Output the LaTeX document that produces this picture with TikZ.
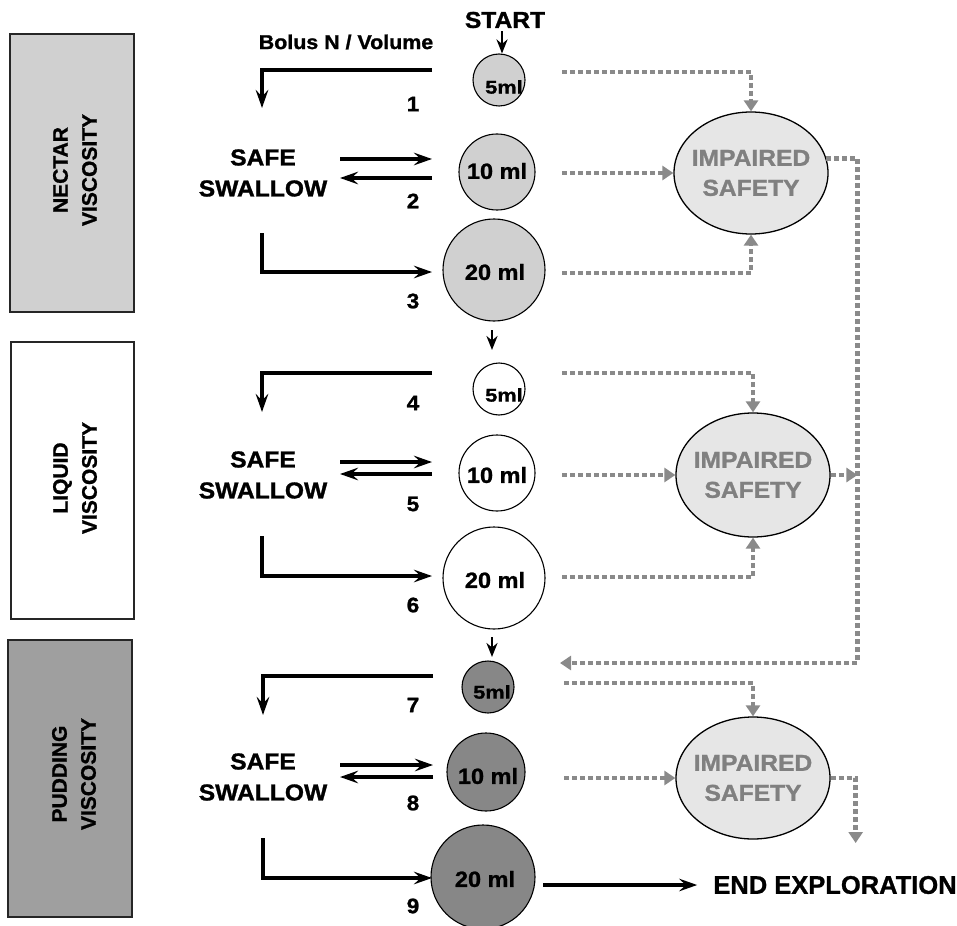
\documentclass[tikz,border=0pt]{standalone}
\usepackage{fontspec}
\setmainfont{Liberation Sans}[FakeStretch=1.07, FakeBold=1.2]
\newfontfamily\plainsans{Liberation Sans}[FakeBold=1.0]
\usetikzlibrary{arrows.meta,shapes.geometric}

\definecolor{nectarfill}{HTML}{D0D0D0}
\definecolor{puddingfill}{HTML}{9F9F9F}
\definecolor{puddingball}{HTML}{878787}
\definecolor{impairfill}{HTML}{E6E6E6}
\definecolor{impairtext}{HTML}{808080}
\definecolor{dotgray}{HTML}{8A8A8A}

\tikzset{
  visbox/.style={draw=black!85, line width=1.3pt, minimum width=124pt,
    minimum height=278pt, inner sep=0pt},
  vislabel/.style={rotate=90, align=center,
    font=\plainsans\bfseries\fontsize{21}{29}\selectfont},
  ball/.style={circle, draw, line width=1.1pt, inner sep=0pt},
  vol/.style={font=\bfseries\fontsize{22}{26}\selectfont, inner sep=0pt},
  volsmall/.style={font=\bfseries\fontsize{18.5}{20}\selectfont, inner sep=0pt},
  num/.style={font=\bfseries\fontsize{21}{22}\selectfont, inner sep=0pt},
  safe/.style={align=center, font=\bfseries\fontsize{23}{31}\selectfont},
  impair/.style={ellipse, draw, line width=1.3pt, fill=impairfill,
    minimum width=154pt, minimum height=122pt, inner sep=0pt},
  impairlbl/.style={align=center, text=impairtext,
    font=\bfseries\fontsize{23}{30}\selectfont},
  blk/.style={line width=3.2pt, -{Stealth[length=18pt,width=12.5pt,inset=6.5pt]}},
  blksmall/.style={line width=2.8pt, -{Stealth[length=14pt,width=11pt,inset=4.5pt]}},
  dot/.style={draw=dotgray, line width=4.8pt, dash pattern=on 5pt off 3pt},
  dotarr/.style={dot, -{Triangle[length=11pt,width=14pt]}},
}

\begin{document}
\begin{tikzpicture}[x=1pt,y=-1pt]
\useasboundingbox (0,0) rectangle (957,925);

% ---- viscosity bands ----
\node[visbox, fill=nectarfill] (nectar) at (72,173) {};
\node[vislabel] (nectarlbl) at (75,170) {NECTAR\\VISCOSITY};
\node[visbox, fill=white, minimum width=123pt, minimum height=277pt] (liquid) at (72.5,480.5) {};
\node[vislabel] (liquidlbl) at (75,478) {LIQUID\\VISCOSITY};
\node[visbox, fill=puddingfill, minimum height=277pt] (pudding) at (70,778.5) {};
\node[vislabel] (puddinglbl) at (74,774) {PUDDING\\VISCOSITY};

% ---- header ----
\node[font=\bfseries\fontsize{23}{26}\selectfont, inner sep=0pt] (start) at (505,20) {START};
\node[font=\bfseries\fontsize{20}{22}\selectfont, inner sep=0pt] (bolus) at (346,42) {Bolus N / Volume};

% ---- bolus volumes ----
\node[ball, fill=nectarfill, minimum size=52pt] (n5) at (499,80) {};
\node[ball, fill=nectarfill, minimum size=76pt] (n10) at (497,172) {};
\node[ball, fill=nectarfill, minimum size=102pt] (n20) at (494,270) {};
\node[ball, fill=white, minimum size=52pt] (l5) at (499,389) {};
\node[ball, fill=white, minimum size=76pt] (l10) at (497,473) {};
\node[ball, fill=white, minimum size=102pt] (l20) at (494,578) {};
\node[ball, fill=puddingball, minimum size=52pt] (p5) at (488,687) {};
\node[ball, fill=puddingball, minimum size=78pt] (p10) at (486,772) {};
\node[ball, fill=puddingball, minimum size=104pt] (p20) at (483,877) {};

\node[volsmall] (n5t) at ([shift={(5,7)}]n5.center) {\scalebox{1.1}[1]{5ml}};
\node[vol] (n10t) at ([shift={(0,-1)}]n10.center) {10 ml};
\node[vol] (n20t) at ([shift={(1,2)}]n20.center) {20 ml};
\node[volsmall] (l5t) at ([shift={(5,6)}]l5.center) {\scalebox{1.1}[1]{5ml}};
\node[vol] (l10t) at ([shift={(0,2)}]l10.center) {10 ml};
\node[vol] (l20t) at ([shift={(1,2)}]l20.center) {20 ml};
\node[volsmall] (p5t) at ([shift={(4,5)}]p5.center) {\scalebox{1.1}[1]{5ml}};
\node[vol] (p10t) at ([shift={(2,4)}]p10.center) {10 ml};
\node[vol] (p20t) at ([shift={(2,2)}]p20.center) {20 ml};

% ---- step numbers ----
\node[num] (s1) at (413,104) {1};
\node[num] (s2) at (413,201) {2};
\node[num] (s3) at (413,301) {3};
\node[num] (s4) at (413,403) {4};
\node[num] (s5) at (413,504) {5};
\node[num] (s6) at (413,605) {6};
\node[num] (s7) at (413,705) {7};
\node[num] (s8) at (413,803) {8};
\node[num] (s9) at (413,906) {9};

% ---- safe swallow labels ----
\node[safe] (safe1) at (263,173) {SAFE\\SWALLOW};
\node[safe] (safe2) at (263,475) {SAFE\\SWALLOW};
\node[safe] (safe3) at (263,777) {SAFE\\SWALLOW};

% ---- impaired safety ----
\node[impair] (e1) at (751,173) {};
\node[impairlbl] (e1t) at (e1) {IMPAIRED\\SAFETY};
\node[impair, minimum height=124pt] (e2) at (753,475) {};
\node[impairlbl] (e2t) at (e2) {IMPAIRED\\SAFETY};
\node[impair] (e3) at (753,778) {};
\node[impairlbl] (e3t) at (e3) {IMPAIRED\\SAFETY};

\node[font=\plainsans\bfseries\fontsize{25.5}{28}\selectfont, inner xsep=16pt, inner ysep=0pt] (endx) at (835,885) {END EXPLORATION};

% ---- sequence between volumes ----
\draw[blksmall] (start.south -| 502,0) ++(0,3) coordinate (a0) -- (a0 |- n5.north);
\coordinate (a1) at (492,330);
\draw[blksmall] (a1) -- ++(0,20);
\coordinate (a2) at (492,637);
\draw[blksmall] (a2) -- ++(0,20);

% ---- swallow loops, nectar ----
\coordinate (b1) at (432,70);
\draw[blk] (b1) -| (262,108);
\coordinate (b2a) at (340,159);
\coordinate (b2b) at (432,159);
\draw[blk] (b2a) -- (b2b);
\coordinate (b2c) at (432,178);
\coordinate (b2d) at (340,178);
\draw[blk] (b2c) -- (b2d);
\coordinate (b3) at (262,233);
\draw[blk] (b3) |- (432,272);

% ---- swallow loops, liquid ----
\coordinate (b4) at (432,373);
\draw[blk] (b4) -| (262,412);
\coordinate (b5a) at (340,462);
\draw[blk] (b5a) -- ++(92,0);
\coordinate (b5b) at (432,474);
\draw[blk] (b5b) -- ++(-92,0);
\coordinate (b6) at (262,536);
\draw[blk] (b6) |- (432,576);

% ---- swallow loops, pudding ----
\coordinate (b7) at (433,676);
\draw[blk] (b7) -| (263,715);
\coordinate (b8a) at (340,765);
\draw[blk] (b8a) -- ++(93,0);
\coordinate (b8b) at (433,777);
\draw[blk] (b8b) -- ++(-93,0);
\coordinate (b9) at (263,838);
\draw[blk] (b9) |- (432,878);

% ---- end of exploration ----
\coordinate (endstart) at (543,885);
\draw[blk] (endstart) -- (endx.west);

% ---- impaired safety paths, nectar ----
\draw[dotarr] (562,72) -| (e1.north);
\draw[dotarr] (562,173) -- (e1.west);
\draw[dotarr] (562,273) -| (e1.south);
\coordinate (ret) at (560,663);
\draw[dotarr] (e1.11) -- ++(31,0) coordinate (rail) -- (rail |- ret) -- (ret);

% ---- impaired safety paths, liquid ----
\draw[dotarr] (562,373) -| (e2.north);
\draw[dotarr] (562,475) -- (e2.west);
\draw[dotarr] (562,577) -| (e2.south);
\draw[dotarr] (e2.east) -- (rail |- e2.east);

% ---- impaired safety paths, pudding ----
\draw[dotarr] (564,683) -| (e3.north);
\draw[dotarr] (564,778) -- (e3.west);
\draw[dotarr] (e3.east) -- ++(25,0) -- ++(0,65);
\end{tikzpicture}
\end{document}
